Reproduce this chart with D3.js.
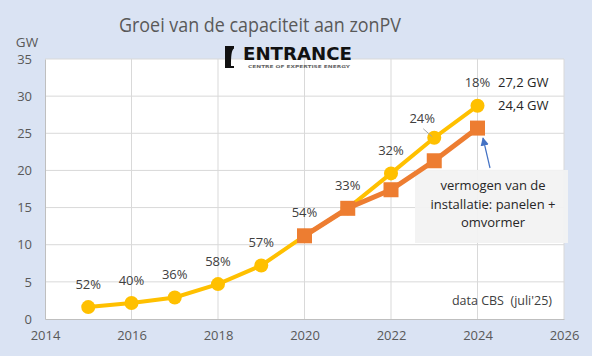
<!DOCTYPE html>
<html><head><meta charset="utf-8">
<script src="https://cdn.jsdelivr.net/npm/d3@7"></script>
<style>body{margin:0;background:#dae3f3;}svg{display:block;}</style>
</head><body>
<svg id="c" width="592" height="356"></svg>
<script>
const years = [2015,2016,2017,2018,2019,2020,2021,2022,2023,2024];
const zonPV = [1.6,2.15,2.9,4.7,7.2,11.2,14.9,19.6,24.4,28.7];
const installatie = [null,null,null,null,null,11.2,14.9,17.4,21.3,25.7];
const percents = ["52%","40%","36%","58%","57%","54%","33%","32%","24%","18%"];
const xTicks = [2014,2016,2018,2020,2022,2024,2026];
const yTicks = [0,5,10,15,20,25,30,35];
const endLabels = ["27,2 GW","24,4 GW"];
const noteLines = ["vermogen van de","installatie: panelen +","omvormer"];

const svg = d3.select("#c");
const font = "'Open Sans', Lato, sans-serif";
const m = {l:45, r:564, t:59, b:319};
const x = d3.scaleLinear().domain([2014,2026]).range([m.l,m.r]);
const y = d3.scaleLinear().domain([0,35]).range([m.b,m.t]);

svg.append("rect").attr("width",592).attr("height",356).attr("fill","#dae3f3");
svg.append("rect").attr("x",m.l).attr("y",m.t).attr("width",m.r-m.l).attr("height",m.b-m.t).attr("fill","#fff");

// grid
svg.append("g").selectAll("line").data(yTicks.slice(1)).join("line")
  .attr("x1",m.l).attr("x2",m.r).attr("y1",d=>y(d)).attr("y2",d=>y(d))
  .attr("stroke","#d9d9d9").attr("stroke-width",1);
svg.append("g").selectAll("line").data(xTicks.slice(1)).join("line")
  .attr("x1",d=>x(d)).attr("x2",d=>x(d)).attr("y1",m.t).attr("y2",m.b)
  .attr("stroke","#d9d9d9").attr("stroke-width",1);

// axes
const yAxis = svg.append("g").attr("transform",`translate(${m.l},0)`)
  .call(d3.axisLeft(y).tickValues(yTicks).tickSize(0).tickPadding(13));
const xAxis = svg.append("g").attr("transform",`translate(0,${m.b})`)
  .call(d3.axisBottom(x).tickValues(xTicks).tickFormat(d3.format("d")).tickSize(0).tickPadding(12));
[yAxis,xAxis].forEach(g=>{
  g.select(".domain").attr("stroke","#bfbfbf");
  g.selectAll("text").attr("font-family",font).attr("font-size",13).attr("fill","#595959");
});

// title
svg.append("text").attr("x",260).attr("y",32).attr("text-anchor","middle")
  .attr("font-family",font).attr("font-size",19.5).attr("fill","#595959")
  .attr("textLength",282).attr("lengthAdjust","spacingAndGlyphs")
  .text("Groei van de capaciteit aan zonPV");
svg.append("text").attr("x",27).attr("y",47).attr("text-anchor","middle")
  .attr("font-family",font).attr("font-size",13.5).attr("fill","#595959").text("GW");

// logo
svg.append("path").attr("d","M225,46 L234,46 L234,48.5 C231.5,50 231,56 231,66 L234,66 L234,68 L225,68 Z").attr("fill","#111");
svg.append("text").attr("x",243).attr("y",60).attr("font-family","'DejaVu Sans', sans-serif")
  .attr("font-weight","bold").attr("font-size",17).attr("fill","#111")
  .attr("textLength",109).attr("lengthAdjust","spacingAndGlyphs").text("ENTRANCE");
svg.append("text").attr("x",248).attr("y",67.5).attr("font-family","'DejaVu Sans', sans-serif")
  .attr("font-weight","bold").attr("font-size",4).attr("fill","#666")
  .attr("textLength",102).attr("lengthAdjust","spacingAndGlyphs").text("CENTRE OF EXPERTISE ENERGY");

// annotation box
svg.append("rect").attr("x",415).attr("y",170).attr("width",153).attr("height",73).attr("fill","#f2f2f2").attr("opacity",0.95);
svg.append("g").selectAll("text").data(noteLines).join("text")
  .attr("x",493).attr("y",(d,i)=>190+i*18.5).attr("text-anchor","middle")
  .attr("font-family",font).attr("font-size",13).attr("fill","#262626").text(d=>d);

// arrow
svg.append("defs").append("marker").attr("id","ah").attr("viewBox","0 0 10 10").attr("refX",9).attr("refY",5)
  .attr("markerWidth",7).attr("markerHeight",7).attr("orient","auto")
  .append("path").attr("d","M0,0 L10,5 L0,10 Z").attr("fill","#4472c4");
svg.append("line").attr("x1",490).attr("y1",168).attr("x2",483).attr("y2",138)
  .attr("stroke","#4472c4").attr("stroke-width",1.2).attr("marker-end","url(#ah)");

// lines
const yData = years.map((yr,i)=>({yr,v:zonPV[i],p:percents[i]}));
const oData = years.map((yr,i)=>({yr,v:installatie[i]})).filter(d=>d.v!=null);
const line = d3.line().x(d=>x(d.yr)).y(d=>y(d.v));
svg.append("path").datum(yData).attr("d",line).attr("fill","none").attr("stroke","#ffc000").attr("stroke-width",4);
svg.append("g").selectAll("circle").data(yData).join("circle")
  .attr("cx",d=>x(d.yr)).attr("cy",d=>y(d.v)).attr("r",7).attr("fill","#ffc000");
svg.append("path").datum(oData).attr("d",line).attr("fill","none").attr("stroke","#ed7d31").attr("stroke-width",5);
svg.append("g").selectAll("rect").data(oData).join("rect")
  .attr("x",d=>x(d.yr)-7.5).attr("y",d=>y(d.v)-7.5).attr("width",15).attr("height",15).attr("fill","#ed7d31");

// percent labels
svg.append("g").selectAll("text").data(yData).join("text")
  .attr("x",d=>x(d.yr)+(d.yr===2023?-12:0)).attr("y",d=>y(d.v)-(d.yr===2023?19:23)+4.5)
  .attr("text-anchor","middle").attr("font-family",font).attr("font-size",13).attr("fill","#404040").text(d=>d.p);
svg.append("line").attr("x1",x(2023)-11).attr("y1",y(zonPV[8])-9).attr("x2",x(2023)-2).attr("y2",y(zonPV[8])-1)
  .attr("stroke","#a6a6a6").attr("stroke-width",1);

// end labels
svg.append("g").selectAll("text").data(endLabels).join("text")
  .attr("x",498).attr("y",(d,i)=>i===0?y(zonPV[9])-23+4.5:y(zonPV[9])+4.5)
  .attr("font-family",font).attr("font-size",13).attr("fill","#262626").text(d=>d);

svg.append("text").attr("x",552).attr("y",304.5).attr("text-anchor","end")
  .attr("font-family",font).attr("font-size",12.5).attr("fill","#404040").attr("xml:space","preserve").text("data CBS  (juli'25)");
</script>
</body></html>
